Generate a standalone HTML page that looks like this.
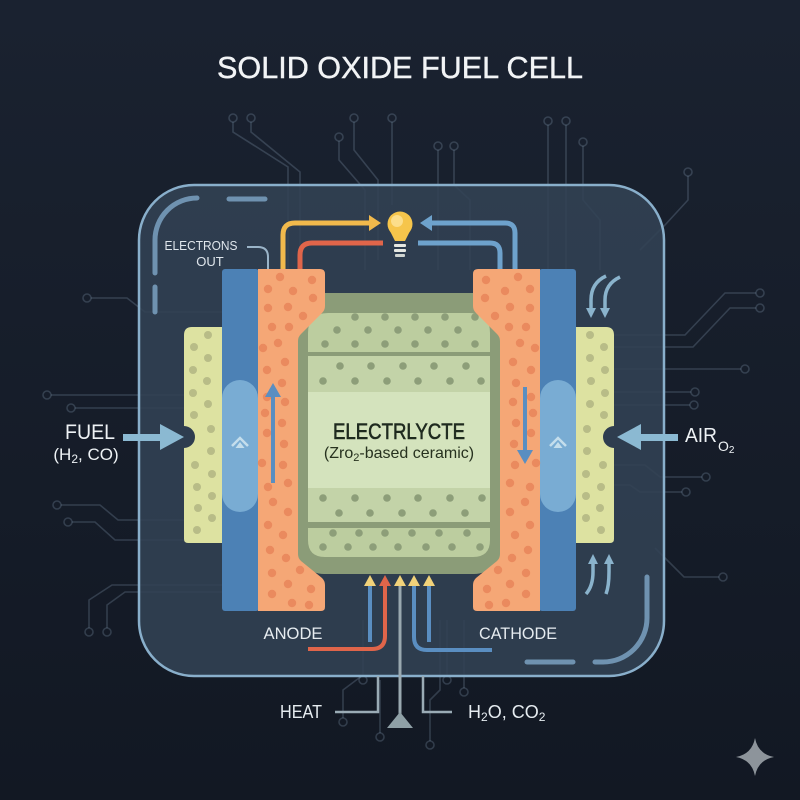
<!DOCTYPE html>
<html>
<head>
<meta charset="utf-8">
<style>
html,body{margin:0;padding:0;background:#161d29;}
svg{display:block;}
text{font-family:"Liberation Sans",sans-serif;}
</style>
</head>
<body>
<svg width="800" height="800" viewBox="0 0 800 800" xmlns="http://www.w3.org/2000/svg">
<defs>
<linearGradient id="bg" x1="0" y1="0" x2="0" y2="1">
<stop offset="0" stop-color="#1a2230"/>
<stop offset="1" stop-color="#121823"/>
</linearGradient>
<g id="anode">
  <!-- yellow fuel channel -->
  <path d="M192,327 H224 V543 H188 Q184,543 184,539 V448 A11,11 0 0 0 184,426 V335 Q184,327 192,327 Z" fill="#dde2a1"/>
  <g fill="#b8bc87">
    <circle cx="208" cy="335" r="4"/><circle cx="194" cy="347" r="4"/>
    <circle cx="208" cy="358" r="4"/><circle cx="193" cy="370" r="4"/>
    <circle cx="207" cy="381" r="4"/><circle cx="193" cy="393" r="4"/>
    <circle cx="208" cy="404" r="4"/><circle cx="194" cy="415" r="4"/>
    <circle cx="211" cy="429" r="4"/><circle cx="211" cy="451" r="4"/>
    <circle cx="195" cy="465" r="4"/><circle cx="212" cy="474" r="4"/>
    <circle cx="197" cy="487" r="4"/><circle cx="212" cy="496" r="4"/>
    <circle cx="198" cy="508" r="4"/><circle cx="212" cy="518" r="4"/>
    <circle cx="197" cy="530" r="4"/>
  </g>
  <!-- blue collector -->
  <rect x="222" y="269" width="37" height="342" rx="3" fill="#4c81b5"/>
  <rect x="222" y="380" width="36" height="132" rx="18" fill="#79acd3"/>
  <polyline points="232,446 240,438 248,446" fill="none" stroke="#c4deec" stroke-width="2.5"/>
  <polygon points="240,442 235.5,448 244.5,448" fill="#c4deec"/>
  <!-- orange electrode -->
  <path d="M258,269 H320 Q325,269 325,274 V306 Q325,310 322,313 L301,334 Q298,337 298,341 V554 Q298,558 301,561 L322,578 Q325,581 325,585 V607 Q325,611 321,611 H258 Z" fill="#f5a776"/>
  <g fill="#ea8a5e">
    <circle cx="280" cy="277" r="4.2"/><circle cx="312" cy="280" r="4.2"/>
    <circle cx="268" cy="289" r="4.2"/><circle cx="293" cy="291" r="4.2"/>
    <circle cx="313" cy="298" r="4.2"/><circle cx="268" cy="308" r="4.2"/>
    <circle cx="288" cy="307" r="4.2"/><circle cx="303" cy="316" r="4.2"/>
    <circle cx="272" cy="327" r="4.2"/><circle cx="289" cy="327" r="4.2"/>
    <circle cx="263" cy="348" r="4.2"/><circle cx="278" cy="343" r="4.2"/>
    <circle cx="285" cy="362" r="4.2"/><circle cx="267" cy="370" r="4.2"/>
    <circle cx="282" cy="383" r="4.2"/><circle cx="267" cy="397" r="4.2"/>
    <circle cx="285" cy="402" r="4.2"/><circle cx="265" cy="413" r="4.2"/>
    <circle cx="282" cy="423" r="4.2"/><circle cx="267" cy="433" r="4.2"/>
    <circle cx="284" cy="444" r="4.2"/><circle cx="262" cy="463" r="4.2"/>
    <circle cx="283" cy="465" r="4.2"/><circle cx="268" cy="487" r="4.2"/>
    <circle cx="288" cy="483" r="4.2"/><circle cx="273" cy="502" r="4.2"/>
    <circle cx="288" cy="512" r="4.2"/><circle cx="268" cy="525" r="4.2"/>
    <circle cx="283" cy="535" r="4.2"/><circle cx="270" cy="550" r="4.2"/>
    <circle cx="286" cy="558" r="4.2"/><circle cx="272" cy="573" r="4.2"/>
    <circle cx="300" cy="570" r="4.2"/><circle cx="288" cy="584" r="4.2"/>
    <circle cx="311" cy="589" r="4.2"/><circle cx="272" cy="594" r="4.2"/>
    <circle cx="292" cy="603" r="4.2"/><circle cx="309" cy="605" r="4.2"/>
  </g>
</g>
</defs>

<rect width="800" height="800" fill="url(#bg)"/>

<!-- circuit traces -->
<g fill="none" stroke="rgba(150,175,200,0.24)" stroke-width="1.6">
  <circle cx="233" cy="118" r="4"/><path d="M233,122 V132 L288,167 V270"/>
  <circle cx="251" cy="118" r="4"/><path d="M251,122 V132 L300,172 V270"/>
  <circle cx="339" cy="137" r="4"/><path d="M339,141 V160 L365,190 V270"/>
  <circle cx="354" cy="118" r="4"/><path d="M354,122 V150 L378,180 V260"/>
  <circle cx="392" cy="118" r="4"/><path d="M392,122 V205"/>
  <circle cx="438" cy="146" r="4"/><path d="M438,150 V270"/>
  <circle cx="454" cy="146" r="4"/><path d="M454,150 V185 L470,200 V270"/>
  <circle cx="548" cy="121" r="4"/><path d="M548,125 V270"/>
  <circle cx="566" cy="121" r="4"/><path d="M566,125 V270"/>
  <circle cx="583" cy="142" r="4"/><path d="M583,146 V200 L600,220 V270"/>
  <circle cx="688" cy="172" r="4"/><path d="M688,176 V200 L665,225 L640,250"/>
  <circle cx="87" cy="298" r="4"/><path d="M91,298 H127 L145,312 H222"/>
  <circle cx="47" cy="395" r="4"/><path d="M51,395 H184"/>
  <circle cx="71" cy="408" r="4"/><path d="M75,408 H184"/>
  <circle cx="57" cy="505" r="4"/><path d="M61,505 H100 L118,520 H184"/>
  <circle cx="68" cy="522" r="4"/><path d="M72,522 H95 L115,540 H184"/>
  <circle cx="89" cy="632" r="4"/><path d="M89,628 V600 L112,585 H222"/>
  <circle cx="107" cy="632" r="4"/><path d="M107,628 V605 L125,592 H222"/>
  <circle cx="760" cy="293" r="4"/><path d="M756,293 H725 L685,335 H613"/>
  <circle cx="760" cy="308" r="4"/><path d="M756,308 H730 L693,347 H613"/>
  <circle cx="745" cy="369" r="4"/><path d="M741,369 H613"/>
  <circle cx="695" cy="392" r="4"/><path d="M691,392 H613"/>
  <circle cx="694" cy="405" r="4"/><path d="M690,405 H613"/>
  <circle cx="706" cy="477" r="4"/><path d="M702,477 H660 L645,465 H613"/>
  <circle cx="686" cy="492" r="4"/><path d="M682,492 H640 L630,485 H613"/>
  <circle cx="723" cy="577" r="4"/><path d="M719,577 H684 L655,548"/>
  <circle cx="343" cy="722" r="4"/><path d="M343,718 V690 L363,675 V620"/>
  <circle cx="380" cy="737" r="4"/><path d="M380,733 V680"/>
  <circle cx="430" cy="745" r="4"/><path d="M430,741 V700 L440,690 V620"/>
  <circle cx="464" cy="692" r="4"/><path d="M464,688 V620"/>
  <circle cx="363" cy="680" r="4"/>
  <circle cx="447" cy="680" r="4"/><path d="M447,676 V620"/>
</g>

<!-- container -->
<rect x="139" y="185" width="525" height="491" rx="55" fill="rgba(50,66,84,0.88)" stroke="#89afcb" stroke-width="2.5"/>

<!-- decorative dashed arcs -->
<g fill="none" stroke="#6f92b0" stroke-width="5" stroke-linecap="round">
  <path d="M155,273 V240 A42,42 0 0 1 197,198"/>
  <path d="M229,199 H265"/>
  <path d="M155,287 V312"/>
  <path d="M647,577 V618 A44,44 0 0 1 603,662 H595"/>
  <path d="M527,662 H573"/>
</g>

<!-- electrolyte -->
<rect x="296" y="293" width="206" height="281" rx="28" fill="#8b9c78"/>
<path d="M308,352 V333 Q308,313 328,313 H470 Q490,313 490,333 V352 Z" fill="#bccd9f"/>
<rect x="308" y="356" width="182" height="36" fill="#c3d3a8"/>
<rect x="308" y="392" width="182" height="96" fill="#d4e3bd"/>
<rect x="308" y="488" width="182" height="34" fill="#c3d3a8"/>
<path d="M308,528 H490 V540 Q490,557 473,557 H325 Q308,557 308,540 Z" fill="#bccd9f"/>
<g fill="#8d9e79">
  <circle cx="355" cy="317" r="3.8"/><circle cx="385" cy="317" r="3.8"/><circle cx="415" cy="317" r="3.8"/><circle cx="445" cy="317" r="3.8"/><circle cx="475" cy="317" r="3.8"/>
  <circle cx="337" cy="330" r="3.8"/><circle cx="368" cy="330" r="3.8"/><circle cx="398" cy="330" r="3.8"/><circle cx="428" cy="330" r="3.8"/><circle cx="458" cy="330" r="3.8"/>
  <circle cx="325" cy="344" r="3.8"/><circle cx="355" cy="344" r="3.8"/><circle cx="385" cy="344" r="3.8"/><circle cx="415" cy="344" r="3.8"/><circle cx="445" cy="344" r="3.8"/><circle cx="475" cy="344" r="3.8"/>
  <circle cx="340" cy="366" r="3.8"/><circle cx="371" cy="366" r="3.8"/><circle cx="403" cy="366" r="3.8"/><circle cx="434" cy="366" r="3.8"/><circle cx="466" cy="366" r="3.8"/>
  <circle cx="323" cy="381" r="3.8"/><circle cx="355" cy="381" r="3.8"/><circle cx="387" cy="381" r="3.8"/><circle cx="418" cy="381" r="3.8"/><circle cx="450" cy="381" r="3.8"/><circle cx="481" cy="381" r="3.8"/>
  <circle cx="323" cy="498" r="3.8"/><circle cx="355" cy="498" r="3.8"/><circle cx="387" cy="498" r="3.8"/><circle cx="418" cy="498" r="3.8"/><circle cx="450" cy="498" r="3.8"/><circle cx="482" cy="498" r="3.8"/>
  <circle cx="339" cy="513" r="3.8"/><circle cx="370" cy="513" r="3.8"/><circle cx="402" cy="513" r="3.8"/><circle cx="433" cy="513" r="3.8"/><circle cx="465" cy="513" r="3.8"/>
  <circle cx="333" cy="533" r="3.8"/><circle cx="359" cy="533" r="3.8"/><circle cx="385" cy="533" r="3.8"/><circle cx="412" cy="533" r="3.8"/><circle cx="439" cy="533" r="3.8"/><circle cx="467" cy="533" r="3.8"/>
  <circle cx="323" cy="547" r="3.8"/><circle cx="348" cy="547" r="3.8"/><circle cx="373" cy="547" r="3.8"/><circle cx="398" cy="547" r="3.8"/><circle cx="426" cy="547" r="3.8"/><circle cx="452" cy="547" r="3.8"/><circle cx="480" cy="547" r="3.8"/>
</g>
<text x="399" y="439" font-size="22" text-anchor="middle" textLength="132" lengthAdjust="spacingAndGlyphs" fill="#1f2a1f" stroke="#1f2a1f" stroke-width="0.6">ELECTRLYCTE</text>
<text x="399" y="458" font-size="16" text-anchor="middle" fill="#27321f">(Zro<tspan font-size="11" dy="3">2</tspan><tspan dy="-3">-based ceramic)</tspan></text>

<!-- anode & cathode stacks -->
<use href="#anode"/>
<use href="#anode" transform="translate(798,0) scale(-1,1)"/>

<!-- vertical arrows in electrodes -->
<line x1="273" y1="483" x2="273" y2="394" stroke="#5a8ec1" stroke-width="4"/>
<polygon points="273,383 265,397 281,397" fill="#5a8ec1"/>
<line x1="525" y1="387" x2="525" y2="452" stroke="#5a8ec1" stroke-width="4"/>
<polygon points="525,464 517,450 533,450" fill="#5a8ec1"/>

<!-- external circuit wires -->
<g fill="none" stroke-width="5" stroke-linecap="butt">
  <path d="M283,269 V235 Q283,223 295,223 H370" stroke="#f1b94c"/>
  <path d="M300,269 V255 Q300,243 312,243 H383" stroke="#e0654a"/>
  <path d="M430,223 H505 Q515,223 515,233 V269" stroke="#6ea2cc"/>
  <path d="M418,243 H490 Q500,243 500,253 V269" stroke="#6ea2cc"/>
</g>
<polygon points="381,223 369,215 369,231" fill="#f1b94c"/>
<polygon points="420,223 432,215 432,231" fill="#6ea2cc"/>
<path d="M247,247 H258 Q268,247 268,257 V269" fill="none" stroke="#9ab4c8" stroke-width="2"/>

<!-- light bulb -->
<circle cx="400" cy="224" r="12.5" fill="#f6c54b"/>
<circle cx="397" cy="221" r="6" fill="#fde6a0" opacity="0.75"/>
<path d="M389,229 L395,241 H405 L411,229 Z" fill="#f6c54b"/>
<rect x="394" y="244" width="12" height="3" rx="1" fill="#e6e8e2"/>
<rect x="394" y="249" width="12" height="3" rx="1" fill="#e6e8e2"/>
<rect x="395" y="254" width="10" height="3" rx="1" fill="#cfd4d0"/>

<!-- curved flow arrows right side -->
<g fill="none" stroke="#8ab3cc" stroke-width="3.5">
  <path d="M606,276 Q591,283 591,300 V310"/>
  <path d="M620,277 Q605,284 605,300 V310"/>
  <path d="M586,594 Q593,586 593,572 V563"/>
  <path d="M606,594 Q609,586 609,572 V563"/>
</g>
<g fill="#8ab3cc">
  <polygon points="591,318 586,308 596,308"/>
  <polygon points="605,318 600,308 610,308"/>
  <polygon points="593,554 588,564 598,564"/>
  <polygon points="609,554 604,564 614,564"/>
</g>

<!-- fuel / air arrows -->
<rect x="123" y="434" width="40" height="7" fill="#8bb9d2"/>
<polygon points="184,437 160,424 160,450" fill="#8bb9d2"/>
<rect x="638" y="434" width="40" height="7" fill="#8bb9d2"/>
<polygon points="617,437 641,424 641,450" fill="#8bb9d2"/>

<!-- bottom arrows -->
<g fill="none" stroke-width="4">
  <line x1="370" y1="584" x2="370" y2="642" stroke="#5a8ec1"/>
  <path d="M385,584 V636 Q385,649 372,649 H308" stroke="#e0654a"/>
  <line x1="400" y1="584" x2="400" y2="716" stroke="#9aa9b0" stroke-width="3"/>
  <path d="M414,584 V637 Q414,650 427,650 H492" stroke="#5a8ec1"/>
  <line x1="429" y1="584" x2="429" y2="642" stroke="#5a8ec1"/>
</g>
<polygon points="370,575 364,586 376,586" fill="#f1d27a"/>
<polygon points="385,575 379,586 391,586" fill="#e0654a"/>
<polygon points="400,575 394,586 406,586" fill="#f1d27a"/>
<polygon points="414,575 408,586 420,586" fill="#f1d27a"/>
<polygon points="429,575 423,586 435,586" fill="#f1d27a"/>
<polygon points="400,712 387,728 413,728" fill="#8fa0a6"/>
<path d="M335,712 H378 V676" fill="none" stroke="#9aabb5" stroke-width="2.5"/>
<path d="M423,676 V712 H452" fill="none" stroke="#9aabb5" stroke-width="2.5"/>

<!-- sparkle -->
<path d="M755,738 Q758,754 774,757 Q758,760 755,776 Q752,760 736,757 Q752,754 755,738 Z" fill="#8d949b"/>

<!-- labels -->
<text x="400" y="78" font-size="31" text-anchor="middle" textLength="366" lengthAdjust="spacingAndGlyphs" fill="#f2f4f6" stroke="#f2f4f6" stroke-width="0.4">SOLID OXIDE FUEL CELL</text>
<text x="201" y="250" font-size="13" text-anchor="middle" textLength="73" lengthAdjust="spacingAndGlyphs" fill="#dfe6ec">ELECTRONS</text>
<text x="210" y="266" font-size="13" text-anchor="middle" fill="#dfe6ec">OUT</text>
<text x="90" y="439" font-size="21" text-anchor="middle" textLength="50" lengthAdjust="spacingAndGlyphs" fill="#eef2f5">FUEL</text>
<text x="86" y="460" font-size="17" text-anchor="middle" fill="#eef2f5">(H<tspan font-size="12" dy="3">2</tspan><tspan dy="-3">, CO)</tspan></text>
<text x="685" y="442" font-size="20" textLength="32" lengthAdjust="spacingAndGlyphs" fill="#eef2f5">AIR</text>
<text x="718" y="451" font-size="14" fill="#eef2f5">O<tspan font-size="10" dy="2">2</tspan></text>
<text x="293" y="639" font-size="17" text-anchor="middle" textLength="59" lengthAdjust="spacingAndGlyphs" fill="#e6ecf0">ANODE</text>
<text x="518" y="639" font-size="17" text-anchor="middle" textLength="78" lengthAdjust="spacingAndGlyphs" fill="#e6ecf0">CATHODE</text>
<text x="301" y="718" font-size="18" text-anchor="middle" textLength="42" lengthAdjust="spacingAndGlyphs" fill="#e6ecf0">HEAT</text>
<text x="468" y="718" font-size="18" fill="#e6ecf0">H<tspan font-size="12" dy="3">2</tspan><tspan dy="-3">O, CO</tspan><tspan font-size="12" dy="3">2</tspan></text>
</svg>
</body>
</html>
